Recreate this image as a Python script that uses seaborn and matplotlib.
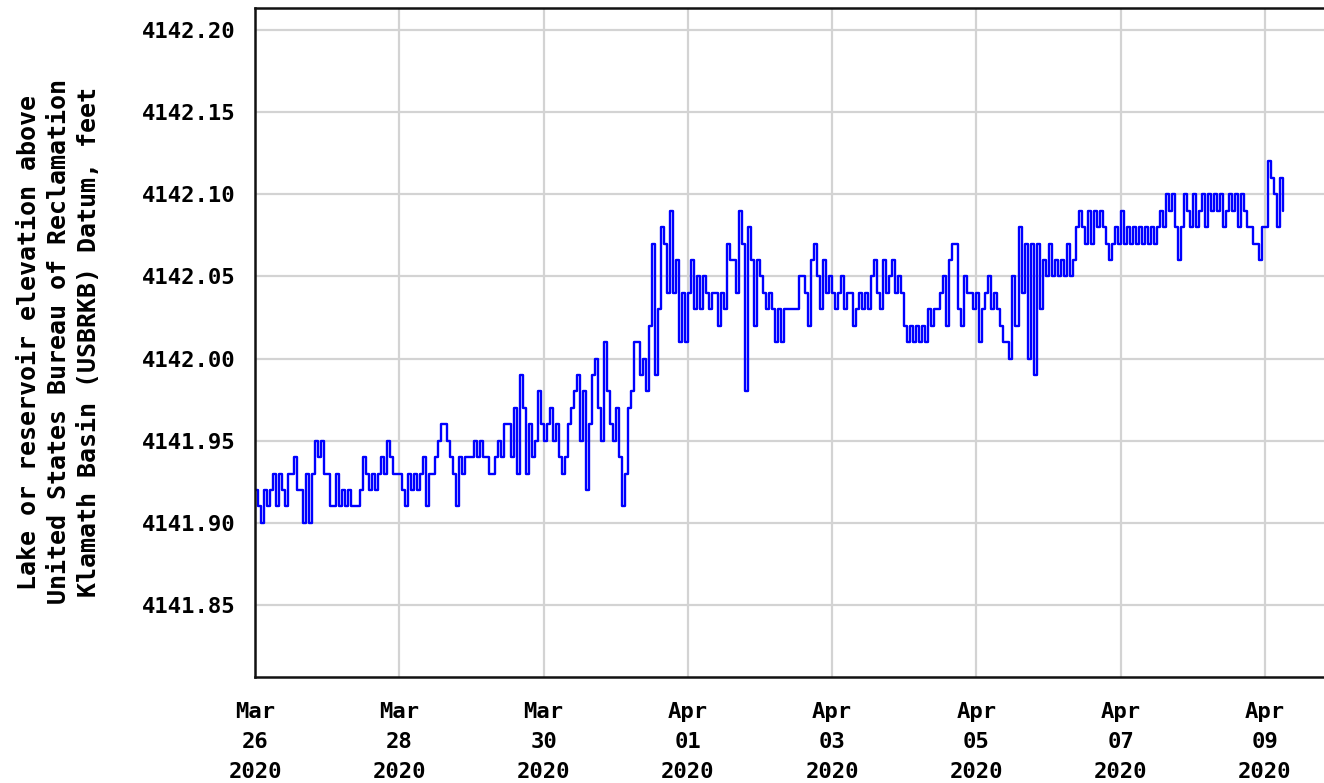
import matplotlib
matplotlib.use("Agg")
import matplotlib.pyplot as plt
import matplotlib.dates as mdates
import numpy as np
import pandas as pd
import seaborn as sns

# Hourly gauge readings, hundredths of a foot above BASE_ELEV, one list per day
BASE_ELEV = 4141.80
mar26 = [12, 11, 10, 12, 11, 12, 13, 11, 13, 12, 11, 13, 13, 14, 12, 12, 10, 13, 10, 13, 15, 14, 15, 13]
mar27 = [13, 11, 11, 13, 11, 12, 11, 12, 11, 11, 11, 12, 14, 13, 12, 13, 12, 13, 14, 13, 15, 14, 13, 13]
mar28 = [13, 12, 11, 13, 12, 13, 12, 13, 14, 11, 13, 13, 14, 15, 16, 16, 15, 14, 13, 11, 14, 13, 14, 14]
mar29 = [14, 15, 14, 15, 14, 14, 13, 13, 14, 15, 14, 16, 16, 14, 17, 13, 19, 17, 13, 16, 14, 15, 18, 16]
mar30 = [15, 16, 17, 15, 16, 14, 13, 14, 16, 17, 18, 19, 15, 18, 12, 16, 19, 20, 17, 15, 21, 18, 16, 15]
mar31 = [17, 14, 11, 13, 17, 18, 21, 21, 19, 20, 18, 22, 27, 19, 23, 28, 27, 24, 29, 24, 26, 21, 24, 21]
apr01 = [24, 26, 23, 25, 23, 25, 24, 23, 24, 24, 22, 24, 23, 27, 26, 26, 24, 29, 27, 18, 28, 26, 22, 26]
apr02 = [25, 24, 23, 24, 23, 21, 23, 21, 23, 23, 23, 23, 23, 25, 25, 24, 22, 26, 27, 25, 23, 26, 24, 25]
apr03 = [24, 23, 24, 25, 23, 24, 24, 22, 23, 24, 23, 24, 23, 25, 26, 24, 23, 26, 24, 25, 26, 24, 25, 24]
apr04 = [22, 21, 22, 21, 22, 21, 22, 21, 23, 22, 23, 23, 24, 25, 22, 26, 27, 27, 23, 22, 25, 24, 24, 23]
apr05 = [24, 21, 23, 24, 25, 23, 24, 23, 22, 21, 21, 20, 25, 22, 28, 24, 27, 20, 27, 19, 27, 23, 26, 25]
apr06 = [27, 25, 26, 25, 26, 25, 27, 25, 26, 28, 29, 28, 27, 29, 27, 29, 28, 29, 28, 27, 26, 27, 28, 27]
apr07 = [29, 27, 28, 27, 28, 27, 28, 27, 28, 27, 28, 27, 28, 29, 28, 30, 29, 30, 28, 26, 28, 30, 29, 28]
apr08 = [30, 28, 29, 30, 28, 30, 29, 30, 29, 30, 28, 29, 30, 29, 30, 28, 30, 29, 28, 28, 27, 27, 26, 28]
apr09 = [28, 32, 31, 30, 28, 31, 29]

y_ticks = [4141.85, 4141.90, 4141.95, 4142.00, 4142.05, 4142.10, 4142.15, 4142.20]
y_tick_labels = ["4141.85", "4141.90", "4141.95", "4142.00", "4142.05", "4142.10", "4142.15", "4142.20"]
x_ticks = ["2020-03-26", "2020-03-28", "2020-03-30", "2020-04-01",
           "2020-04-03", "2020-04-05", "2020-04-07", "2020-04-09"]
x_tick_labels = ["Mar\n26\n2020", "Mar\n28\n2020", "Mar\n30\n2020", "Apr\n01\n2020",
                 "Apr\n03\n2020", "Apr\n05\n2020", "Apr\n07\n2020", "Apr\n09\n2020"]
y_label = ("Lake or reservoir elevation above\n"
           "United States Bureau of Reclamation\n"
           "Klamath Basin (USBRKB) Datum, feet")

levels = mar26 + mar27 + mar28 + mar29 + mar30 + mar31 + apr01 + apr02 + apr03 + apr04 + apr05 + apr06 + apr07 + apr08 + apr09
df = pd.DataFrame({
    "time": pd.date_range("2020-03-26 00:00", periods=len(levels), freq="h"),
    "elev": BASE_ELEV + np.array(levels) / 100.0,
})

sns.set_style("white")
plt.rcParams["font.family"] = ["DejaVu Sans Mono"]
plt.rcParams["font.weight"] = "bold"
plt.rcParams["text.color"] = "black"

W, H = 1324, 783
fig = plt.figure(figsize=(W / 100, H / 100), dpi=100)
ax = fig.add_axes([255 / W, 1 - 677 / H, (W - 255) / W, (677 - 8) / H])

sns.lineplot(data=df, x="time", y="elev", ax=ax, color="#0000ff", linewidth=1.7,
             drawstyle="steps-post", legend=False)

t0 = pd.Timestamp("2020-03-26 00:00")
ax.set_xlim(mdates.date2num(t0), mdates.date2num(t0) + 14.818)
ax.set_ylim(4141.8062, 4142.2134)

ax.set_yticks(y_ticks)
ax.set_yticklabels(y_tick_labels)
ax.set_xticks([mdates.date2num(pd.Timestamp(t)) for t in x_ticks])
ax.set_xticklabels(x_tick_labels, linespacing=1.62)

ax.grid(True, color="#d3d3d3", linewidth=1.6)
ax.set_axisbelow(True)
ax.tick_params(axis="both", length=0, labelsize=16, colors="black")
ax.tick_params(axis="y", pad=14)
ax.tick_params(axis="x", pad=18)
for lab in ax.get_xticklabels() + ax.get_yticklabels():
    lab.set_fontweight("bold")

for side in ("left", "top", "bottom"):
    ax.spines[side].set_visible(True)
    ax.spines[side].set_color("#111111")
    ax.spines[side].set_linewidth(1.8)
ax.spines["right"].set_visible(False)

ax.set_xlabel("")
ax.set_ylabel("")
fig.text(59 / W, 1 - 342 / H, y_label, rotation=90, ha="center", va="center",
         multialignment="center", fontsize=18, fontweight="bold", linespacing=1.3,
         color="black")

fig.savefig("out.png", dpi=100)
